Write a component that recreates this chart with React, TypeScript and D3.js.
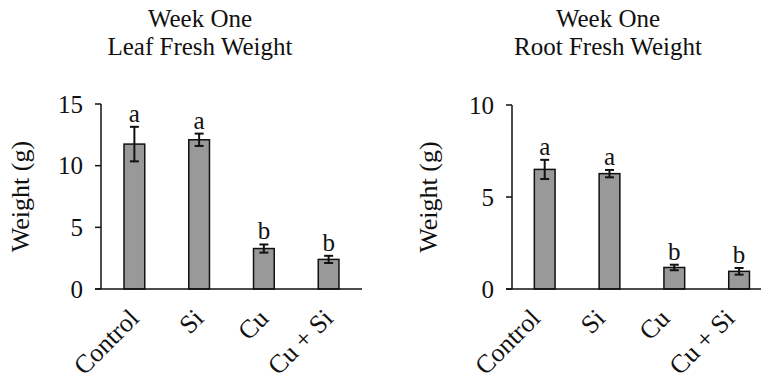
import React, { useEffect, useRef } from 'react'
import * as d3 from 'd3'

const categories = ["Control", "Si", "Cu", "Cu + Si"]

const leafMeans = [11.75, 12.1, 3.28, 2.4]
const leafErrors = [1.4, 0.5, 0.33, 0.29]
const leafLetters = ["a", "a", "b", "b"]
const leafTicks = [0, 5, 10, 15]

const rootMeans = [6.5, 6.27, 1.17, 0.96]
const rootErrors = [0.52, 0.2, 0.15, 0.18]
const rootLetters = ["a", "a", "b", "b"]
const rootTicks = [0, 5, 10]

const FONT = "'Times New Roman', 'Liberation Serif', serif"

function drawPanel(svg, opts) {
    let { title, means, errors, letters, ticks, axisX, xEnd, barRange, yTop, yMax, titleX, labelX, catShift } = opts
    let y0 = 289

    let x = d3.scaleBand()
        .domain(categories)
        .range(barRange)
        .paddingInner(0.68)
        .paddingOuter(0.34)

    let y = d3.scaleLinear().domain([0, yMax]).range([y0, yTop])

    let g = svg.append("g")
        .style("font-family", FONT)
        .attr("fill", "#111")

    // title
    let t = g.append("text")
        .attr("x", titleX)
        .attr("y", 27)
        .attr("text-anchor", "middle")
        .attr("font-size", 25)
    t.append("tspan").attr("x", titleX).text("Week One")
    t.append("tspan").attr("x", titleX).attr("dy", 28).text(title)

    let data = categories.map((c, i) => ({ cat: c, v: means[i], e: errors[i], l: letters[i] }))

    // bars
    g.selectAll(".bar")
        .data(data)
        .enter()
        .append("rect")
        .attr("x", d => x(d.cat))
        .attr("y", d => y(d.v))
        .attr("width", x.bandwidth())
        .attr("height", d => y0 - y(d.v))
        .attr("fill", "#999999")
        .attr("stroke", "#111")
        .attr("stroke-width", 1.5)

    // error bars
    let eb = g.selectAll(".err").data(data).enter().append("g")
        .attr("stroke", "#111").attr("stroke-width", 2)
    let cx = d => x(d.cat) + x.bandwidth() / 2
    eb.append("line")
        .attr("x1", cx).attr("x2", cx)
        .attr("y1", d => y(d.v - d.e))
        .attr("y2", d => y(d.v + d.e))
    eb.append("line")
        .attr("x1", d => cx(d) - 4.5)
        .attr("x2", d => cx(d) + 4.5)
        .attr("y1", d => y(d.v + d.e))
        .attr("y2", d => y(d.v + d.e))
    eb.append("line")
        .attr("x1", d => cx(d) - 4.5)
        .attr("x2", d => cx(d) + 4.5)
        .attr("y1", d => y(d.v - d.e))
        .attr("y2", d => y(d.v - d.e))

    // significance letters
    g.selectAll(".letter")
        .data(data)
        .enter()
        .append("text")
        .attr("x", cx)
        .attr("y", d => y(d.v + d.e) - 5)
        .attr("text-anchor", "middle")
        .attr("font-size", 25)
        .text(d => d.l)

    // y axis
    g.append("line")
        .attr("x1", axisX).attr("x2", axisX)
        .attr("y1", y(yMax)).attr("y2", y0)
        .attr("stroke", "#111").attr("stroke-width", 1.5)
    g.selectAll(".ytick")
        .data(ticks)
        .enter()
        .append("line")
        .attr("x1", axisX - 6).attr("x2", axisX)
        .attr("y1", d => y(d)).attr("y2", d => y(d))
        .attr("stroke", "#111").attr("stroke-width", 1.5)
    g.selectAll(".ylabel")
        .data(ticks)
        .enter()
        .append("text")
        .attr("x", axisX - 18)
        .attr("y", d => y(d))
        .attr("dy", "0.35em")
        .attr("text-anchor", "end")
        .attr("font-size", 25)
        .text(d => d)

    g.append("text")
        .attr("transform", `translate(${labelX},${(y(yMax) + y0) / 2}) rotate(-90)`)
        .attr("text-anchor", "middle")
        .attr("font-size", 26)
        .text("Weight (g)")

    // x axis
    g.append("line")
        .attr("x1", axisX - 6).attr("x2", xEnd)
        .attr("y1", y0).attr("y2", y0)
        .attr("stroke", "#111").attr("stroke-width", 1.5)

    g.selectAll(".xlabel")
        .data(categories)
        .enter()
        .append("text")
        .attr("transform", d => `translate(${x(d) + x.bandwidth() / 2 + catShift},${y0 + 31}) rotate(-45)`)
        .attr("text-anchor", "end")
        .attr("font-size", 26)
        .text(d => d)
}

export default function App() {
    const ref = useRef(null)

    useEffect(() => {
        let svg = d3.select(ref.current)
        svg.selectAll("*").remove()

        drawPanel(svg, {
            title: "Leaf Fresh Weight",
            means: leafMeans, errors: leafErrors, letters: leafLetters, ticks: leafTicks,
            axisX: 101, xEnd: 362, barRange: [102, 361], yTop: 104, yMax: 15,
            titleX: 200, labelX: 29, catShift: 6
        })

        drawPanel(svg, {
            title: "Root Fresh Weight",
            means: rootMeans, errors: rootErrors, letters: rootLetters, ticks: rootTicks,
            axisX: 512, xEnd: 761, barRange: [512.3, 771.5], yTop: 105, yMax: 10,
            titleX: 608, labelX: 437, catShift: -3
        })
    }, [])

    return (
        <svg
            ref={ref}
            width={761}
            height={380}
            style={{ position: "absolute", left: 0, top: 0, background: "#fff" }}
        />
    )
}
